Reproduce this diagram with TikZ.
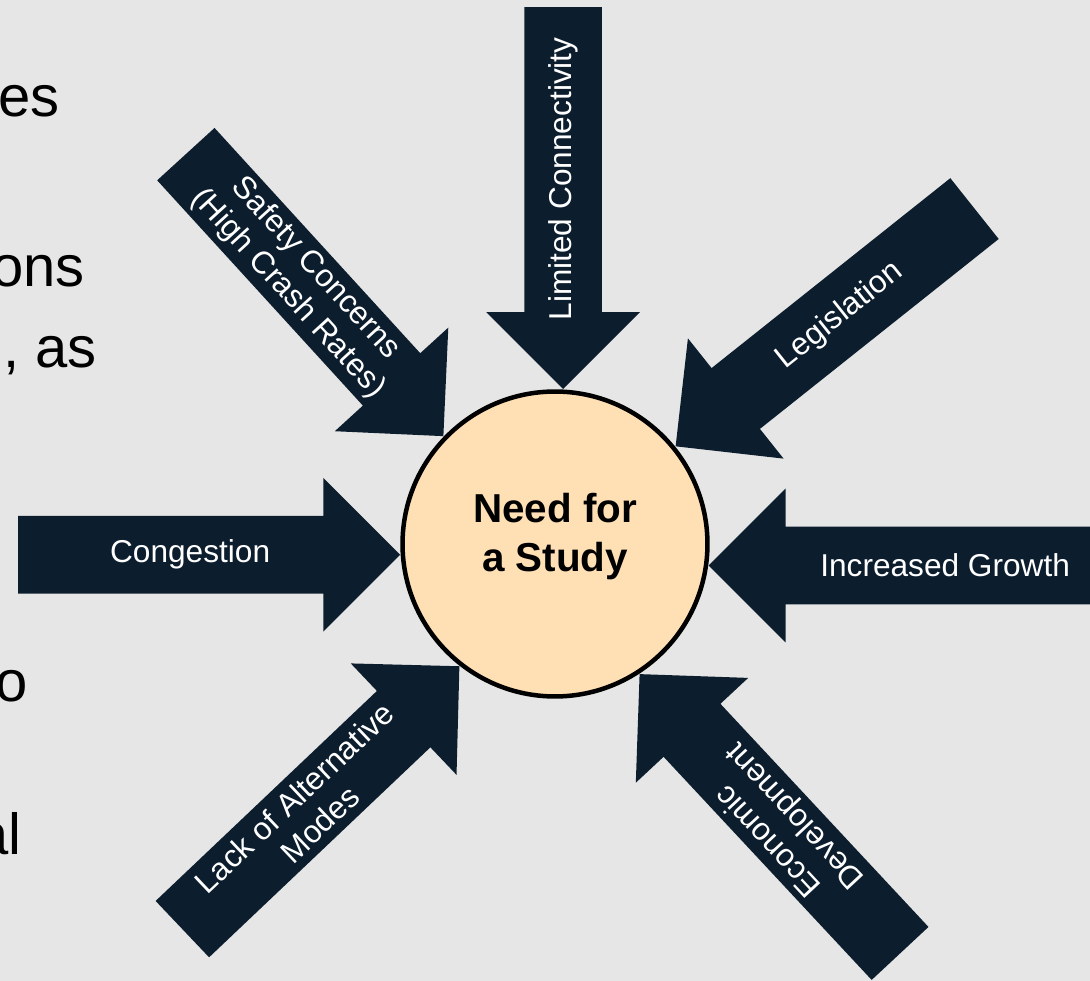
\documentclass[tikz,border=0pt]{standalone}
\usepackage{fontspec}
\setmainfont{Liberation Sans}
\usepackage{xcolor}
\usepackage{tikz}
\usetikzlibrary{shapes.arrows,calc}

\definecolor{navy}{RGB}{12,29,45}
\definecolor{peach}{RGB}{255,224,181}
\definecolor{slidegray}{RGB}{230,230,230}

\begin{document}
\begin{tikzpicture}[x=0.02cm,y=0.02cm,
    cause/.style={single arrow,fill=navy,draw=none,inner xsep=0pt,inner ysep=0.77cm,
      single arrow head extend=0.76cm,minimum height=7.64cm,minimum width=0pt,anchor=tip},
    causetext/.style={text=white,align=center,inner sep=0pt,
      font=\fontsize{18}{21}\selectfont},
    slidetext/.style={anchor=base east,inner sep=0pt,font=\fontsize{33}{40}\selectfont}]
  \useasboundingbox (0,0) rectangle (1090,981);
  \fill[slidegray] (0,0) rectangle (1090,981);
  % Slide text cut off at the left
  \node[slidetext] (es) at (60,864) {es};
  \node[slidetext] (ons) at (85,694) {ons};
  \node[slidetext] (as) at (97,613) {, as};
  \node[slidetext] (o) at (28,279) {o};
  \node[slidetext] (al) at (22,126) {al};
  % Centre circle
  \node[circle,draw,line width=0.09cm,fill=peach,minimum size=6.1cm,inner sep=0pt,
    font=\fontsize{23}{28}\bfseries\selectfont] (study) at (555,437)
    {\raisebox{4pt}[\height][\depth]{\begin{tabular}{@{}c@{}}Need for\\a Study\end{tabular}}};
  % Arrows into the circle
  \node[cause,rotate=-90] (connect) at (study.87) {};
  \node[cause,rotate=-47.6] (safety) at (study.136) {};
  \node[cause,rotate=218.5] (law) at (study.39.2) {};
  \node[cause] (congest) at (study.184.4) {};
  \node[cause,rotate=180,minimum height=8.6cm] (growth) at (study.-8.9) {};
  \node[cause,rotate=43.5] (modes) at (study.232.8) {};
  \node[cause,rotate=133] (econ) at (study.303.5) {};
  % Labels
  \node[causetext,rotate=90] (connect-t) at ($(connect.tail)!0.45!(connect.tip)$)
    {Limited Connectivity};
  \node[causetext,rotate=-47.6] (safety-t) at ($(safety.tail)!0.45!(safety.tip)$)
    {Safety Concerns\\(High Crash Rates)};
  \node[causetext,rotate=38.5] (law-t) at ($(law.tail)!0.45!(law.tip)$) {Legislation};
  \node[causetext] (congest-t) at ($(congest.tail)!0.45!(congest.tip)$) {Congestion};
  \node[causetext] (growth-t) at ($(growth.tail)!0.45!(growth.tip)$) {Increased Growth};
  \node[causetext,rotate=43.5] (modes-t) at ($(modes.tail)!0.45!(modes.tip)$)
    {Lack of Alternative\\Modes};
  \node[causetext,rotate=133] (econ-t) at ($(econ.tail)!0.45!(econ.tip)$)
    {Economic\\Development};
\end{tikzpicture}
\end{document}
